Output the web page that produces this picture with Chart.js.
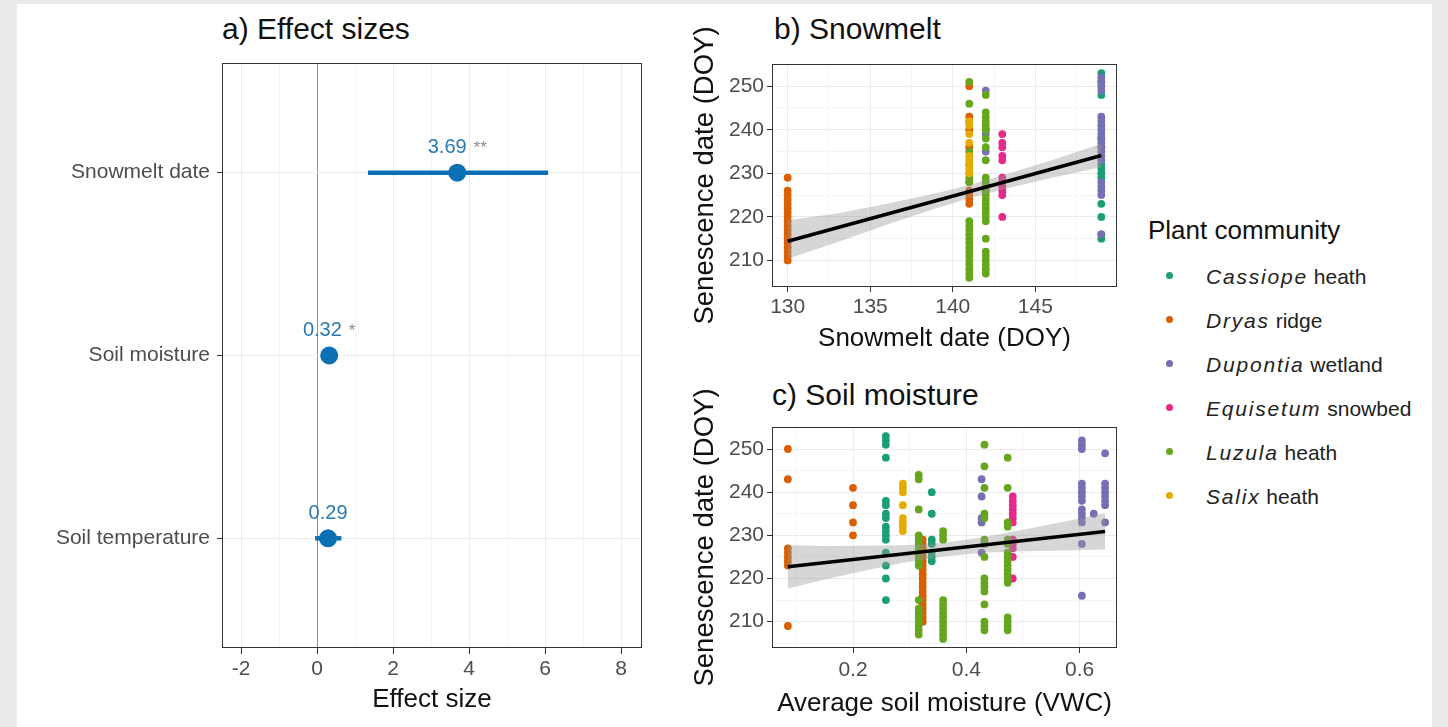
<!DOCTYPE html>
<html><head><meta charset="utf-8">
<script src="https://cdn.jsdelivr.net/npm/chart.js@4.4.1/dist/chart.umd.min.js"></script>
<style>
html,body{margin:0;padding:0;}
body{width:1448px;height:727px;background:#ebebeb;position:relative;overflow:hidden;font-family:"Liberation Sans",Arial,Helvetica,sans-serif;}
#sheet{position:absolute;left:17px;top:4px;width:1415px;height:723px;background:#fff;}
canvas{position:absolute;}
.ptitle{position:absolute;font-size:30px;line-height:30px;color:#111;white-space:nowrap;}
.ltitle{position:absolute;font-size:26px;line-height:26px;color:#111;white-space:nowrap;}
.litem{position:absolute;font-size:21px;line-height:21px;color:#222;white-space:nowrap;}
.litem i{letter-spacing:1.8px;}
.ldot{position:absolute;width:7px;height:7px;border-radius:50%;}
</style></head><body>
<div id="sheet"></div>
<div class="ptitle" style="left:222px;top:14px">a) Effect sizes</div>
<div class="ptitle" style="left:774px;top:14px">b) Snowmelt</div>
<div class="ptitle" style="left:772px;top:380px">c) Soil moisture</div>
<canvas id="ca" width="640" height="670" style="left:20px;top:50px"></canvas>
<canvas id="cb" width="450" height="350" style="left:680px;top:10px"></canvas>
<canvas id="cc" width="450" height="350" style="left:680px;top:370px"></canvas>
<div id="legend"></div>
<script>
// ---------- Panel a: effect sizes ----------
const effectNames = ['Snowmelt date', 'Soil moisture', 'Soil temperature'];
const effectEst = [3.69, 0.32, 0.29];
const effectLow = [1.34, 0.12, -0.05];
const effectHigh = [6.08, 0.52, 0.64];
const effectSig = ['**', '*', ''];
const effectMajorTicks = [-2, 0, 2, 4, 6, 8];
const effectMinorTicks = [-1, 1, 3, 5, 7];

// ---------- Plant communities ----------
const genus = ['Cassiope', 'Dryas', 'Dupontia', 'Equisetum', 'Luzula', 'Salix'];
const habitat = ['heath', 'ridge', 'wetland', 'snowbed', 'heath', 'heath'];
const commColors = ['#1b9e77', '#d95f02', '#7570b3', '#e7298a', '#66a61e', '#e6ab02'];

// ---------- Panel b: senescence vs snowmelt date (site x, senescence DOYs) ----------
const snowCassiope = [[149, [253, 251, 248, 238, 236, 232, 231, 230, 229, 223, 220, 216, 215]]];
const snowDryas = [[130, [229, 226, 225, 224, 223, 222, 221, 220, 219, 218, 217, 216, 215, 214, 213, 212, 211, 210]],
                   [141, [250, 243, 242, 240, 236, 228, 226, 225, 224, 223]]];
const snowDupontia = [[142, [249, 240, 239, 235, 226]],
                      [149, [252, 251, 250, 249, 243, 242, 241, 240, 239, 238, 237, 236, 235, 234, 233, 228, 227, 226, 225, 216]]];
const snowEquisetum = [[143, [239, 237, 236, 234, 233, 229, 228, 227, 226, 225, 220]]];
const snowLuzula = [[141, [251, 246, 235, 232, 230, 229, 228, 219, 218, 217, 216, 215, 214, 213, 212, 211, 210, 209, 208, 207, 206]],
                    [142, [248, 244, 243, 242, 241, 240, 238, 236, 233, 229, 228, 227, 226, 225, 224, 223, 222, 221, 220, 219, 215, 212, 211, 210, 209, 208, 207]]];
const snowSalix = [[141, [242, 241, 239, 237, 234, 233, 232, 231, 230]]];
const snowFitX = [130, 149];
const snowFitY = [214.4, 234.1];
const snowBandX = [130, 133, 136, 139, 141, 143, 146, 149];
const snowBandLo = [210.4, 214.2, 218.2, 222.0, 224.3, 226.3, 229.0, 231.4];
const snowBandHi = [219.2, 220.8, 223.0, 225.4, 227.3, 229.5, 233.0, 236.8];
const snowMajorX = [130, 135, 140, 145];
const snowMinorX = [132.5, 137.5, 142.5, 147.5];

// ---------- Panel c: senescence vs soil moisture ----------
const moistCassiope = [[0.258, [253, 252, 251, 248, 238, 237, 235, 234, 232, 231, 230, 229, 226, 223, 220, 215]],
                       [0.339, [240, 235, 229, 228, 226, 225, 224]]];
const moistDryas = [[0.085, [250, 243, 227, 226, 225, 224, 223, 209]],
                    [0.2, [241, 237, 233, 230]],
                    [0.323, [229, 228, 227, 226, 225, 224, 223, 222, 221, 220, 219, 218, 217, 216, 215, 214, 213, 212, 211, 210]]];
const moistDupontia = [[0.427, [243, 239, 234, 233, 226]],
                       [0.604, [252, 251, 250, 242, 241, 240, 239, 238, 236, 235, 234, 233, 228, 216]],
                       [0.625, [235]],
                       [0.645, [249, 242, 241, 240, 239, 238, 237, 233]]];
const moistEquisetum = [[0.482, [239, 238, 237, 236, 235, 234, 233, 229, 228, 227, 225, 220]]];
const moistLuzula = [[0.316, [244, 243, 236, 230, 229, 228, 227, 226, 225, 224, 223, 215, 213, 212, 211, 210, 209, 208, 207]],
                     [0.359, [231, 230, 229, 215, 214, 213, 212, 211, 210, 209, 208, 207, 206]],
                     [0.432, [251, 246, 241, 235, 234, 229, 228, 225, 220, 219, 218, 217, 214, 210, 209, 208]],
                     [0.473, [248, 241, 233, 232, 229, 228, 226, 225, 224, 223, 222, 221, 220, 219, 211, 210, 209, 208]]];
const moistSalix = [[0.288, [242, 241, 240, 237, 234, 233, 232, 231]]];
const moistFitX = [0.085, 0.645];
const moistFitY = [222.7, 230.9];
const moistBandX = [0.085, 0.15, 0.22, 0.29, 0.36, 0.43, 0.5, 0.57, 0.645];
const moistBandLo = [217.7, 219.75, 221.8, 223.7, 225.1, 225.95, 226.3, 226.5, 226.7];
const moistBandHi = [227.7, 227.55, 227.6, 227.7, 228.3, 229.55, 231.3, 233.1, 235.1];
const moistMajorX = [0.2, 0.4, 0.6];
const moistMinorX = [0.1, 0.3, 0.5];

const senMajorY = [210, 220, 230, 240, 250];
const senMinorY = [205, 215, 225, 235, 245, 255];

// ---------- helpers ----------
const FONT = '"Liberation Sans", Arial, Helvetica, sans-serif';
Chart.defaults.font.family = FONT;
Chart.defaults.color = '#4d4d4d';
const TICK_GREY = '#4d4d4d';
const TITLE_COL = '#111111';
const BLUE = '#0b6fb3';

function toPts(groups) {
  const out = [];
  groups.forEach(([x, ys]) => ys.forEach(y => out.push({x: x, y: y})));
  return out;
}
function zipPts(xs, ys) { return xs.map((x, i) => ({x: x, y: ys[i]})); }
function tickBuilder(major, minor) {
  return s => {
    s.ticks = major.map(v => ({value: v, isMajor: true}))
      .concat(minor.map(v => ({value: v, isMajor: false})))
      .sort((a, b) => a.value - b.value);
  };
}
function majorLabel(fmt) {
  return function (value, index, ticks) { return ticks[index] && ticks[index].isMajor ? fmt(value) : ''; };
}
function fixWidth(w) {
  return s => { s.width = w; s.paddingTop = 0; s.paddingBottom = 0; s.paddingLeft = 0; s.paddingRight = 0; };
}
function fixHeight(h) {
  return s => { s.height = h; s.paddingTop = 0; s.paddingBottom = 0; s.paddingLeft = 0; s.paddingRight = 0; };
}
const gridCol = ctx => (ctx.tick && ctx.tick.isMajor) ? '#ebebeb' : '#f5f5f5';
const tickCol = ctx => (ctx.tick && ctx.tick.isMajor) ? '#333333' : 'rgba(0,0,0,0)';

const framePlugin = {
  id: 'frame',
  afterDatasetsDraw(chart) {
    const {ctx, chartArea: a} = chart;
    ctx.save();
    ctx.strokeStyle = '#333333';
    ctx.lineWidth = 1;
    ctx.strokeRect(Math.round(a.left) + 0.5, Math.round(a.top) + 0.5,
                   Math.round(a.right - a.left) - 1, Math.round(a.bottom - a.top) - 1);
    ctx.restore();
  }
};

// ---------- Panel a chart ----------
const effectLabelPlugin = {
  id: 'effectLabels',
  afterDatasetsDraw(chart) {
    const {ctx, scales} = chart;
    ctx.save();
    ctx.textBaseline = 'alphabetic';
    ctx.textAlign = 'left';
    effectEst.forEach((e, i) => {
      const px = scales.x.getPixelForValue(e);
      const py = scales.y.getPixelForValue(i + 1) - 27 + 7.2;
      const num = e.toFixed(2);
      ctx.font = '20px ' + FONT;
      const wNum = ctx.measureText(num).width;
      const star = effectSig[i];
      ctx.font = '17px ' + FONT;
      const wStar = star ? ctx.measureText(star).width + 7 : 0;
      const x0 = px - (wNum + wStar) / 2;
      ctx.font = '20px ' + FONT;
      ctx.fillStyle = '#2a79b3';
      ctx.fillText(num, x0, py);
      if (star) {
        ctx.font = '17px ' + FONT;
        ctx.fillStyle = '#8a8a8a';
        ctx.fillText(star, x0 + wNum + 7, py);
      }
    });
    ctx.restore();
  }
};

const effectDatasets = effectNames.map((n, i) => ({
  data: [{x: effectLow[i], y: i + 1}, {x: effectHigh[i], y: i + 1}],
  showLine: true, borderColor: BLUE, borderWidth: 4.5, pointRadius: 0,
  borderCapStyle: 'butt', order: 1
}));
effectDatasets.push({
  data: effectEst.map((e, i) => ({x: e, y: i + 1})),
  pointRadius: 9, pointBackgroundColor: BLUE, pointBorderWidth: 0, showLine: false, order: 0
});

new Chart(document.getElementById('ca'), {
  type: 'scatter',
  data: {datasets: effectDatasets},
  plugins: [framePlugin, effectLabelPlugin],
  options: {
    responsive: false, animation: false,
    layout: {padding: {top: 13, right: 18, left: 0, bottom: 0}},
    plugins: {legend: {display: false}, tooltip: {enabled: false}},
    scales: {
      x: {
        type: 'linear', min: -2.5, max: 8.55, bounds: 'data',
        afterBuildTicks: tickBuilder(effectMajorTicks, effectMinorTicks),
        afterFit: fixHeight(72),
        ticks: {callback: majorLabel(v => String(v)), autoSkip: false, maxRotation: 0,
                font: {size: 21}, color: TICK_GREY, padding: 3},
        grid: {color: ctx => (ctx.tick && ctx.tick.value === 0) ? '#8c8c8c' : gridCol(ctx),
               lineWidth: 1, tickColor: tickCol, tickLength: 6},
        border: {display: false},
        title: {display: true, text: 'Effect size', font: {size: 26}, color: TITLE_COL,
                padding: {top: 0, bottom: 5}}
      },
      y: {
        type: 'linear', min: 0.4, max: 3.6, reverse: true, bounds: 'data',
        afterBuildTicks: s => { s.ticks = effectNames.map((n, i) => ({value: i + 1, isMajor: true})); },
        afterFit: fixWidth(202),
        ticks: {callback: v => effectNames[Math.round(v) - 1], autoSkip: false,
                font: {size: 21}, color: TICK_GREY, padding: 7},
        grid: {color: '#ebebeb', tickColor: '#333333', tickLength: 5},
        border: {display: false}
      }
    }
  }
});

// ---------- scatter panels ----------
function scatterChart(canvasId, groups, fitX, fitY, bandX, bandLo, bandHi, xOpt, xTitle, xAxisH, xTitlePad, padTop) {
  const ds = [
    {data: zipPts(fitX, fitY), showLine: true, borderColor: '#000', borderWidth: 3.5,
     pointRadius: 0, order: 0, fill: false},
    {data: zipPts(bandX, bandLo), showLine: true, borderWidth: 0, borderColor: 'rgba(0,0,0,0)',
     pointRadius: 0, fill: false, order: 2},
    {data: zipPts(bandX, bandHi), showLine: true, borderWidth: 0, borderColor: 'rgba(0,0,0,0)',
     pointRadius: 0, fill: '-1', backgroundColor: 'rgba(153,153,153,0.4)', order: 1}
  ];
  groups.forEach((g, i) => {
    ds.push({data: toPts(g), pointRadius: 3.9, pointBackgroundColor: commColors[i],
             pointBorderWidth: 0, showLine: false, order: 9 - i});
  });
  return new Chart(document.getElementById(canvasId), {
    type: 'scatter',
    data: {datasets: ds},
    plugins: [framePlugin],
    options: {
      responsive: false, animation: false,
      layout: {padding: {top: padTop, right: 13, left: 0, bottom: 0}},
      plugins: {legend: {display: false}, tooltip: {enabled: false}},
      scales: {
        x: Object.assign({
          type: 'linear', bounds: 'data',
          afterFit: fixHeight(xAxisH),
          grid: {color: gridCol, tickColor: tickCol, tickLength: 5},
          border: {display: false},
          title: {display: true, text: xTitle, font: {size: 26}, color: TITLE_COL,
                  padding: {top: 0, bottom: xTitlePad}}
        }, xOpt),
        y: {
          type: 'linear', min: 203.9, max: 255.1, bounds: 'data',
          afterBuildTicks: tickBuilder(senMajorY, senMinorY),
          afterFit: fixWidth(92),
          ticks: {callback: majorLabel(v => String(v)), autoSkip: false,
                  font: {size: 21}, color: TICK_GREY, padding: 3},
          grid: {color: gridCol, tickColor: tickCol, tickLength: 5},
          border: {display: false},
          title: {display: true, text: 'Senescence date (DOY)', font: {size: 27.5}, color: TITLE_COL,
                  padding: {top: 8.5, bottom: 0}}
        }
      }
    }
  });
}

scatterChart('cb',
  [snowCassiope, snowDryas, snowDupontia, snowEquisetum, snowLuzula, snowSalix],
  snowFitX, snowFitY, snowBandX, snowBandLo, snowBandHi,
  {min: 129.05, max: 149.95,
   afterBuildTicks: tickBuilder(snowMajorX, snowMinorX),
   ticks: {callback: majorLabel(v => String(v)), autoSkip: false, maxRotation: 0,
           font: {size: 21}, color: TICK_GREY, padding: 3}},
  'Snowmelt date (DOY)', 73, 6, 54);

scatterChart('cc',
  [moistCassiope, moistDryas, moistDupontia, moistEquisetum, moistLuzula, moistSalix],
  moistFitX, moistFitY, moistBandX, moistBandLo, moistBandHi,
  {min: 0.057, max: 0.666,
   afterBuildTicks: tickBuilder(moistMajorX, moistMinorX),
   ticks: {callback: majorLabel(v => v.toFixed(1)), autoSkip: false, maxRotation: 0,
           font: {size: 21}, color: TICK_GREY, padding: 5}},
  'Average soil moisture (VWC)', 72, 1, 57);

// ---------- legend ----------
const leg = document.getElementById('legend');
const lt = document.createElement('div');
lt.className = 'ltitle';
lt.style.left = '1148px'; lt.style.top = '217px';
lt.textContent = 'Plant community';
leg.appendChild(lt);
genus.forEach((g, i) => {
  const base = 283.3 + i * 44;
  const dot = document.createElement('div');
  dot.className = 'ldot';
  dot.style.background = commColors[i];
  dot.style.left = '1166px';
  dot.style.top = (base - 7.5 - 3.5) + 'px';
  leg.appendChild(dot);
  const t = document.createElement('div');
  t.className = 'litem';
  t.style.left = '1206px';
  t.style.top = (base - 17.8) + 'px';
  const it = document.createElement('i');
  it.textContent = g;
  t.appendChild(it);
  t.appendChild(document.createTextNode(' ' + habitat[i]));
  leg.appendChild(t);
});
</script>
</body></html>
